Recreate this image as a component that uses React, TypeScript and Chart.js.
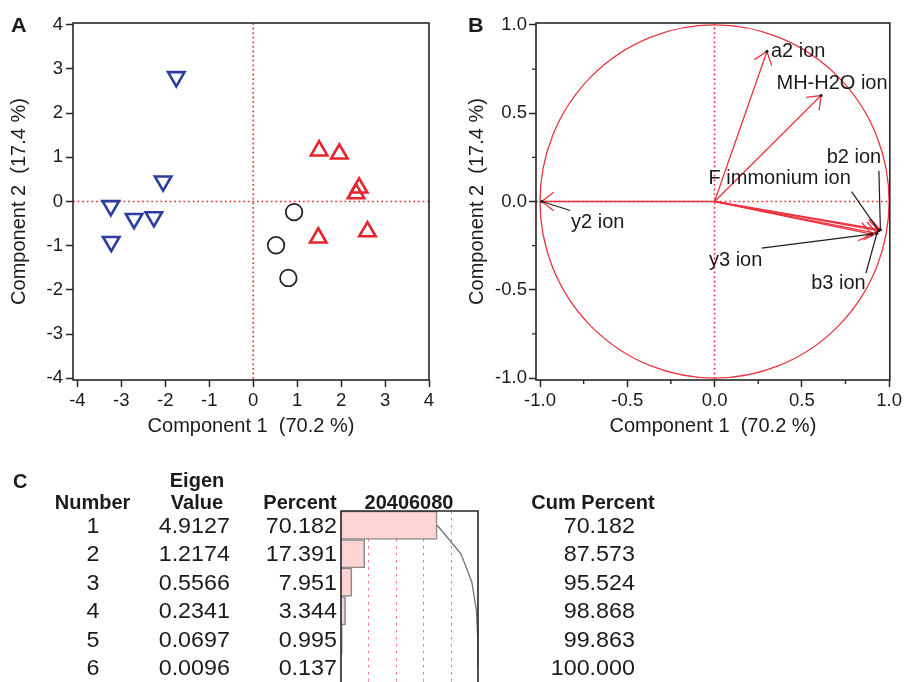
import React, { useEffect, useRef } from 'react';
import { Chart, registerables } from 'chart.js';

Chart.register(...registerables);

// ---------------- data ----------------
// Panel A: PCA scores
const blueX = [-1.75, -2.05, -3.24, -2.71, -2.26, -3.23];
const blueY = [2.82, 0.46, -0.10, -0.39, -0.35, -0.91];
const redX = [1.50, 1.96, 2.41, 2.34, 1.48, 2.60];
const redY = [1.15, 1.08, 0.31, 0.18, -0.82, -0.68];
const blackX = [0.93, 0.52, 0.80];
const blackY = [-0.24, -0.99, -1.73];

// Panel B: loadings
const loadingNames = ['y2 ion', 'a2 ion', 'MH-H2O ion', 'b2 ion', 'F immonium ion', 'b3 ion', 'y3 ion'];
const loadingX = [-0.99, 0.30, 0.61, 0.95, 0.94, 0.93, 0.90];
const loadingY = [0.00, 0.85, 0.60, -0.16, -0.165, -0.18, -0.185];

// Panel C: eigenvalue table
const componentNumber = ['1', '2', '3', '4', '5', '6'];
const eigenValue = [4.9127, 1.2174, 0.5566, 0.2341, 0.0697, 0.0096];
const percent = [70.182, 17.391, 7.951, 3.344, 0.995, 0.137];
const cumPercent = [70.182, 87.573, 95.524, 98.868, 99.863, 100.0];
const percentGridTicks = [20, 40, 60, 80];

// ---------------- styles / layout ----------------
const FONT = "'Liberation Sans', Arial, Helvetica, sans-serif";
const INK = '#1b1b1b';
const FRAME = '#262626';
const RED = '#e6242d';
const ARROW_RED = '#ea3441';
const DOT_RED = '#e8323e';
const BLUE = '#2d3f9e';

// label placement for loadings (pixel offsets from arrow tip)
const loadingLabelLayout = [
  { dx: 56, dy: 21, align: 'center', lead: [28.5, 9] },
  { dx: 4, dy: 0, align: 'left', lead: null },
  { dx: 11, dy: -12, align: 'center', lead: null },
  { dx: -26.5, dy: -72, align: 'center', lead: [-1.5, -59] },
  { dx: -99, dy: -52, align: 'center', lead: [-27, -39] },
  { dx: -38.5, dy: 50, align: 'center', lead: [-11, 40] },
  { dx: -136, dy: 26, align: 'center', lead: [-110, 14] },
];

function drawText(ctx: CanvasRenderingContext2D, text: string, x: number, y: number, font: string, align: CanvasTextAlign, baseline: CanvasTextBaseline, sx = 1, color = INK) {
  ctx.save();
  ctx.font = font;
  ctx.fillStyle = color;
  ctx.textAlign = align;
  ctx.textBaseline = baseline;
  ctx.translate(x, y);
  ctx.scale(sx, 1);
  ctx.fillText(text, 0, 0);
  ctx.restore();
}

const letterPlugin = (letter: string, x: number, y: number) => ({
  id: 'letter' + letter,
  afterDraw(chart: any) {
    drawText(chart.ctx, letter, x, y, `bold 20px ${FONT}`, 'left', 'alphabetic', 1.08);
  },
});

const refLinesPlugin = {
  id: 'refLines',
  beforeDatasetsDraw(chart: any) {
    const { ctx, chartArea: ca, scales } = chart;
    const x0 = scales.x.getPixelForValue(0);
    const y0 = scales.y.getPixelForValue(0);
    ctx.save();
    ctx.strokeStyle = DOT_RED;
    ctx.lineWidth = 1.6;
    ctx.setLineDash([1.8, 2.8]);
    ctx.beginPath();
    ctx.moveTo(x0, ca.top);
    ctx.lineTo(x0, ca.bottom);
    ctx.moveTo(ca.left, y0);
    ctx.lineTo(ca.right, y0);
    ctx.stroke();
    ctx.restore();
  },
};

const framePlugin = {
  id: 'frame',
  afterDatasetsDraw(chart: any) {
    const { ctx, chartArea: ca } = chart;
    ctx.save();
    ctx.strokeStyle = FRAME;
    ctx.lineWidth = 1.6;
    ctx.strokeRect(ca.left, ca.top, ca.right - ca.left, ca.bottom - ca.top);
    ctx.restore();
  },
};

const tickFont = { family: FONT, size: 18.5 };
const titleFont = { family: FONT, size: 20 };

function makeA(canvas: HTMLCanvasElement) {
  const pts = (xs: number[], ys: number[]) => xs.map((x, i) => ({ x, y: ys[i] }));
  return new Chart(canvas, {
    type: 'scatter',
    data: {
      datasets: [
        {
          data: pts(blueX, blueY), pointStyle: 'triangle', rotation: 180, pointRadius: 9.5,
          pointBorderColor: BLUE, pointBackgroundColor: 'rgba(0,0,0,0)', pointBorderWidth: 2.6,
        } as any,
        {
          data: pts(redX, redY), pointStyle: 'triangle', pointRadius: 9.5,
          pointBorderColor: RED, pointBackgroundColor: 'rgba(0,0,0,0)', pointBorderWidth: 2.6,
        },
        {
          data: pts(blackX, blackY), pointStyle: 'circle', pointRadius: 8.3,
          pointBorderColor: '#1e1e1e', pointBackgroundColor: 'rgba(0,0,0,0)', pointBorderWidth: 1.7,
        },
      ],
    },
    options: {
      responsive: false, animation: false, devicePixelRatio: 1,
      layout: { padding: { left: 0, top: 23, right: 21, bottom: 0 } },
      plugins: { legend: { display: false }, tooltip: { enabled: false } },
      scales: {
        x: {
          type: 'linear', min: -4.1, max: 4.0,
          ticks: { stepSize: 1, includeBounds: false, autoSkip: false, maxRotation: 0, padding: 3, color: INK, font: tickFont },
          grid: { display: true, drawOnChartArea: false, drawTicks: true, tickLength: 7, tickColor: FRAME, tickWidth: 1.5 },
          border: { display: false },
          title: { display: true, text: 'Component 1  (70.2 %)', color: INK, font: titleFont, padding: { top: 0, bottom: 12 } },
          afterFit: (s: any) => { s.height = 70; },
        } as any,
        y: {
          type: 'linear', min: -4.04, max: 4.04,
          ticks: { stepSize: 1, includeBounds: false, autoSkip: false, padding: 3, color: INK, font: tickFont },
          grid: { display: true, drawOnChartArea: false, drawTicks: true, tickLength: 7, tickColor: FRAME, tickWidth: 1.5 },
          border: { display: false },
          title: { display: true, text: 'Component 2  (17.4 %)', color: INK, font: titleFont, padding: { top: 7, bottom: 0 } },
          afterFit: (s: any) => { s.width = 73; },
        } as any,
      },
    },
    plugins: [refLinesPlugin, framePlugin, letterPlugin('A', 11, 32)],
  });
}

const isMajor = (v: number) => Math.abs(v * 2 - Math.round(v * 2)) < 1e-6;

const minorTicksPlugin = {
  id: 'minorTicks',
  afterDraw(chart: any) {
    const { ctx, chartArea: ca, scales } = chart;
    ctx.save();
    ctx.strokeStyle = FRAME;
    ctx.lineWidth = 1.4;
    ctx.beginPath();
    scales.x.ticks.forEach((t: any) => {
      if (isMajor(t.value)) return;
      const px = scales.x.getPixelForValue(t.value);
      ctx.moveTo(px, ca.bottom);
      ctx.lineTo(px, ca.bottom + 4);
    });
    scales.y.ticks.forEach((t: any) => {
      if (isMajor(t.value)) return;
      const py = scales.y.getPixelForValue(t.value);
      ctx.moveTo(ca.left, py);
      ctx.lineTo(ca.left - 4, py);
    });
    ctx.stroke();
    ctx.restore();
  },
};

const unitCirclePlugin = {
  id: 'unitCircle',
  beforeDatasetsDraw(chart: any) {
    const { ctx, scales } = chart;
    const cx = scales.x.getPixelForValue(0);
    const cy = scales.y.getPixelForValue(0);
    const rx = scales.x.getPixelForValue(1) - cx;
    const ry = cy - scales.y.getPixelForValue(1);
    ctx.save();
    ctx.strokeStyle = ARROW_RED;
    ctx.lineWidth = 1.3;
    ctx.beginPath();
    ctx.ellipse(cx, cy, rx, ry, 0, 0, Math.PI * 2);
    ctx.stroke();
    ctx.restore();
  },
};

const arrowLabelPlugin = {
  id: 'arrowLabels',
  afterDatasetsDraw(chart: any) {
    const { ctx } = chart;
    loadingNames.forEach((name, i) => {
      const meta = chart.getDatasetMeta(i);
      const p0 = meta.data[0];
      const p1 = meta.data[1];
      const ang = Math.atan2(p1.y - p0.y, p1.x - p0.x);
      const L = 15;
      const h = 0.66;
      ctx.save();
      ctx.strokeStyle = ARROW_RED;
      ctx.lineWidth = 1.3;
      ctx.beginPath();
      ctx.moveTo(p1.x - L * Math.cos(ang - h), p1.y - L * Math.sin(ang - h));
      ctx.lineTo(p1.x, p1.y);
      ctx.lineTo(p1.x - L * Math.cos(ang + h), p1.y - L * Math.sin(ang + h));
      ctx.stroke();
      ctx.restore();
    });
    loadingNames.forEach((name, i) => {
      const p1 = chart.getDatasetMeta(i).data[1];
      const lay = loadingLabelLayout[i];
      ctx.save();
      ctx.strokeStyle = '#1e1e1e';
      ctx.fillStyle = '#1e1e1e';
      ctx.lineWidth = 1.2;
      if (lay.lead) {
        ctx.beginPath();
        ctx.moveTo(p1.x + lay.lead[0], p1.y + lay.lead[1]);
        ctx.lineTo(p1.x, p1.y);
        ctx.stroke();
      }
      ctx.beginPath();
      ctx.arc(p1.x, p1.y, 1.6, 0, Math.PI * 2);
      ctx.fill();
      ctx.restore();
      drawText(ctx, name, p1.x + lay.dx, p1.y + lay.dy, `20px ${FONT}`, lay.align as CanvasTextAlign, 'middle', 1.0);
    });
  },
};

function makeB(canvas: HTMLCanvasElement) {
  return new Chart(canvas, {
    type: 'scatter',
    data: {
      datasets: loadingNames.map((name, i) => ({
        label: name,
        data: [{ x: 0, y: 0 }, { x: loadingX[i], y: loadingY[i] }],
        showLine: true,
        borderColor: ARROW_RED,
        borderWidth: 1.3,
        pointRadius: 0,
        fill: false,
      })),
    },
    options: {
      responsive: false, animation: false, devicePixelRatio: 1,
      layout: { padding: { left: 0, top: 23, right: 13, bottom: 0 } },
      plugins: { legend: { display: false }, tooltip: { enabled: false } },
      scales: {
        x: {
          type: 'linear', min: -1.023, max: 1.004,
          ticks: {
            stepSize: 0.25, includeBounds: false, autoSkip: false, maxRotation: 0, padding: 3, color: INK, font: tickFont,
            callback: (v: any) => (isMajor(Number(v)) ? Number(v).toFixed(1) : ''),
          },
          grid: {
            display: true, drawOnChartArea: false, drawTicks: true, tickLength: 7, tickWidth: 1.5,
            tickColor: (c: any) => (c.tick && isMajor(c.tick.value) ? FRAME : 'rgba(0,0,0,0)'),
          },
          border: { display: false },
          title: { display: true, text: 'Component 1  (70.2 %)', color: INK, font: titleFont, padding: { top: 0, bottom: 12 } },
          afterFit: (s: any) => { s.height = 70; },
        } as any,
        y: {
          type: 'linear', min: -1.011, max: 1.011,
          ticks: {
            stepSize: 0.25, includeBounds: false, autoSkip: false, padding: 2, color: INK, font: tickFont,
            callback: (v: any) => (isMajor(Number(v)) ? Number(v).toFixed(1) : ''),
          },
          grid: {
            display: true, drawOnChartArea: false, drawTicks: true, tickLength: 7, tickWidth: 1.5,
            tickColor: (c: any) => (c.tick && isMajor(c.tick.value) ? FRAME : 'rgba(0,0,0,0)'),
          },
          border: { display: false },
          title: { display: true, text: 'Component 2  (17.4 %)', color: INK, font: titleFont, padding: { top: 15, bottom: 0 } },
          afterFit: (s: any) => { s.width = 86; },
        } as any,
      },
    },
    plugins: [refLinesPlugin, unitCirclePlugin, arrowLabelPlugin, framePlugin, minorTicksPlugin, letterPlugin('B', 18, 32)],
  });
}

const tablePlugin = {
  id: 'eigenTable',
  beforeDatasetsDraw(chart: any) {
    const { ctx, chartArea: ca, scales } = chart;
    ctx.save();
    ctx.strokeStyle = 'rgba(240,90,110,0.85)';
    ctx.lineWidth = 1;
    ctx.setLineDash([2.5, 4.5]);
    ctx.beginPath();
    percentGridTicks.forEach((t) => {
      const px = Math.round(scales.x.getPixelForValue(t)) + 0.5;
      ctx.moveTo(px, ca.top);
      ctx.lineTo(px, ca.bottom);
    });
    ctx.stroke();
    ctx.restore();
  },
  afterDraw(chart: any) {
    const { ctx, chartArea: ca, scales } = chart;
    // frame (top, left, right)
    ctx.save();
    ctx.strokeStyle = FRAME;
    ctx.lineWidth = 1.6;
    ctx.beginPath();
    ctx.moveTo(ca.left, ca.bottom + 2);
    ctx.lineTo(ca.left, ca.top);
    ctx.lineTo(ca.right, ca.top);
    ctx.lineTo(ca.right, ca.bottom + 2);
    ctx.stroke();
    ctx.restore();

    const hf = `bold 20px ${FONT}`;
    const vf = `22px ${FONT}`;
    drawText(ctx, 'C', 13, 33, hf, 'left', 'alphabetic', 1.0);
    drawText(ctx, 'Number', 92.5, 54, hf, 'center', 'alphabetic', 1.0);
    drawText(ctx, 'Eigen', 197, 32, hf, 'center', 'alphabetic', 1.0);
    drawText(ctx, 'Value', 197, 54, hf, 'center', 'alphabetic', 1.0);
    drawText(ctx, 'Percent', 300, 54, hf, 'center', 'alphabetic', 1.0);
    drawText(ctx, percentGridTicks.join(''), 409, 54, hf, 'center', 'alphabetic', 1.0);
    drawText(ctx, 'Cum Percent', 593, 54, hf, 'center', 'alphabetic', 1.0);

    componentNumber.forEach((n, i) => {
      const y = scales.y.getPixelForValue(i) + 1.5;
      drawText(ctx, n, 93, y, vf, 'center', 'middle', 1.06);
      drawText(ctx, eigenValue[i].toFixed(4), 230, y, vf, 'right', 'middle', 1.06);
      drawText(ctx, percent[i].toFixed(3), 337, y, vf, 'right', 'middle', 1.06);
      drawText(ctx, cumPercent[i].toFixed(3), 635, y, vf, 'right', 'middle', 1.06);
    });
  },
};

function makeC(canvas: HTMLCanvasElement) {
  return new Chart(canvas, {
    type: 'bar',
    data: {
      labels: componentNumber,
      datasets: [
        {
          type: 'line', label: 'Cum Percent', data: cumPercent, indexAxis: 'y',
          borderColor: '#727272', borderWidth: 1.3, pointRadius: 0, fill: false, order: 0,
        } as any,
        {
          type: 'bar', label: 'Percent', data: percent,
          backgroundColor: '#ffd4d4', borderColor: '#8a8a8a', borderWidth: 1.6,
          barPercentage: 1, categoryPercentage: 1, order: 1,
        },
      ],
    },
    options: {
      indexAxis: 'y', responsive: false, animation: false, devicePixelRatio: 1,
      layout: { padding: { left: 341, right: 427, top: 56, bottom: 0 } },
      plugins: { legend: { display: false }, tooltip: { enabled: false } },
      scales: {
        x: { type: 'linear', display: false, min: 0, max: 100 },
        y: { type: 'category', display: false },
      },
    },
    plugins: [tablePlugin],
  });
}

export default function App() {
  const aRef = useRef<HTMLCanvasElement>(null);
  const bRef = useRef<HTMLCanvasElement>(null);
  const cRef = useRef<HTMLCanvasElement>(null);

  useEffect(() => {
    const charts: Chart[] = [];
    if (aRef.current) charts.push(makeA(aRef.current));
    if (bRef.current) charts.push(makeB(bRef.current));
    if (cRef.current) charts.push(makeC(cRef.current));
    return () => charts.forEach((c) => c.destroy());
  }, []);

  return (
    <div style={{ position: 'absolute', left: 0, top: 0, width: 905, height: 682, overflow: 'hidden', background: '#ffffff' }}>
      <canvas ref={aRef} width={450} height={450} style={{ position: 'absolute', left: 0, top: 0, width: 450, height: 450 }} />
      <canvas ref={bRef} width={455} height={450} style={{ position: 'absolute', left: 450, top: 0, width: 455, height: 450 }} />
      <canvas ref={cRef} width={905} height={227} style={{ position: 'absolute', left: 0, top: 455, width: 905, height: 227 }} />
    </div>
  );
}
